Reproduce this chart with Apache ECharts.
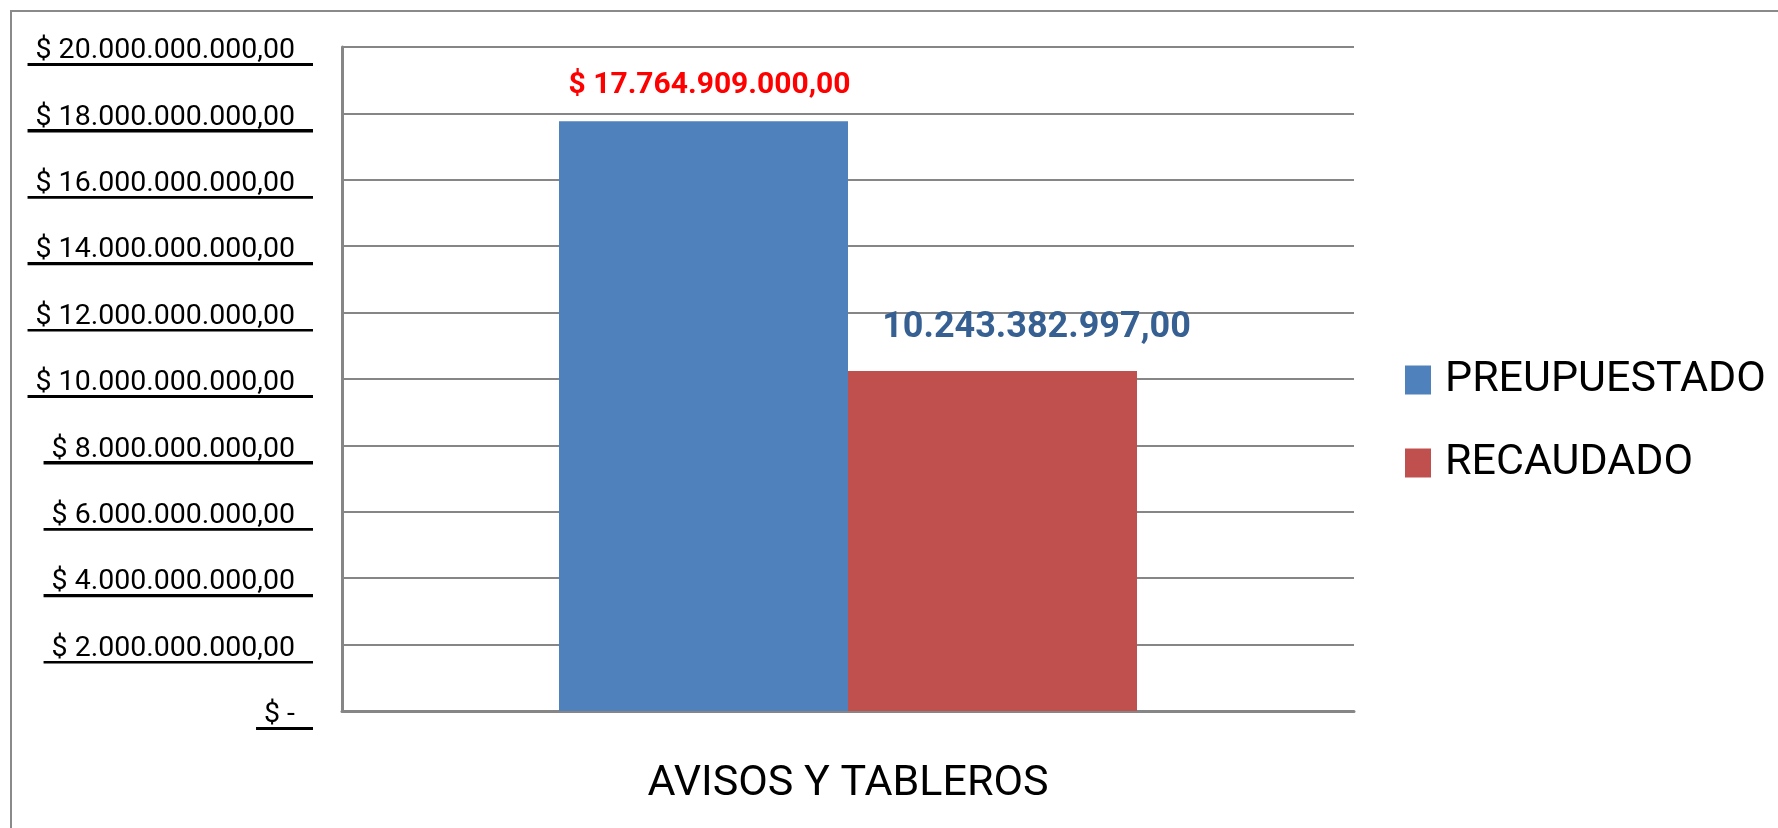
<!DOCTYPE html>
<html>
<head>
<meta charset="utf-8">
<script src="https://cdn.jsdelivr.net/npm/echarts@6/dist/echarts.min.js"></script>
<style>
  html, body { margin: 0; padding: 0; background: #fff; }
  #chart { width: 1778px; height: 828px; }
</style>
</head>
<body>
<div id="chart"></div>
<script>
  // datos
  const categories = ['AVISOS Y TABLEROS']
  const seriesNames = ['PREUPUESTADO', 'RECAUDADO']
  const presupuestado = [17764909000]
  const recaudado = [10243382997]
  const yMin = 0
  const yMax = 20000000000
  const yStep = 2000000000

  const colorList = ['#4f81bd', '#c0504d']
  const font = 'Roboto'

  // 1234567 -> "1.234.567,00"
  const fmt = (v) => Math.round(v).toString().replace(/\B(?=(\d{3})+(?!\d))/g, '.') + ',00'

  // subrayado tipo contabilidad de Excel
  const underline = new echarts.graphic.LinearGradient(0, 0, 0, 1, [
    { offset: 0, color: 'rgba(0,0,0,0)' },
    { offset: 0.92, color: 'rgba(0,0,0,0)' },
    { offset: 0.92, color: '#000' },
    { offset: 1, color: '#000' },
  ])

  const chart = echarts.init(document.getElementById('chart'))
  const options = {
    animation: false,
    textStyle: { fontFamily: font },
    graphic: [
      {
        type: 'rect',
        shape: { x: 11, y: 11, width: 1800, height: 900 },
        style: { fill: 'none', stroke: '#8a8a8a', lineWidth: 2 },
        silent: true,
      },
    ],
    legend: {
      orient: 'vertical',
      left: 1400,
      top: 353,
      icon: 'rect',
      itemWidth: 26,
      itemHeight: 29,
      itemGap: 39,
      textStyle: {
        fontFamily: font,
        fontSize: 43,
        lineHeight: 44,
        color: '#000',
        padding: [0, 0, 0, 9],
      },
      data: seriesNames,
    },
    grid: {
      left: 342,
      right: 424,
      top: 47,
      bottom: 117,
    },
    xAxis: [
      {
        type: 'category',
        data: categories,
        axisLine: { lineStyle: { color: '#868686', width: 3 } },
        axisTick: { show: false },
        axisLabel: {
          fontFamily: font,
          fontSize: 43,
          color: '#000',
          margin: 52,
        },
      },
    ],
    yAxis: [
      {
        type: 'value',
        min: yMin,
        max: yMax,
        interval: yStep,
        axisLine: { show: true, lineStyle: { color: '#868686', width: 3 } },
        axisTick: { show: false },
        splitLine: { lineStyle: { color: '#868686', width: 2 } },
        axisLabel: {
          margin: 29,
          padding: [0, 18, 0, 8],
          backgroundColor: underline,
          formatter: (v) => '{s| }\n{a|' + (v === 0 ? '$ -' : '$ ' + fmt(v)) + '}',
          rich: {
            s: { fontSize: 4, lineHeight: 8 },
            a: { fontFamily: font, fontSize: 28.5, lineHeight: 30, color: '#000' },
          },
        },
      },
    ],
    series: [
      {
        name: seriesNames[0],
        type: 'bar',
        data: presupuestado,
        barWidth: 289,
        barGap: '0%',
        itemStyle: { color: colorList[0] },
        label: {
          show: true,
          position: 'top',
          distance: 21,
          offset: [6, 0],
          fontFamily: font,
          fontWeight: 'bold',
          fontSize: 30,
          color: '#ff0000',
          formatter: (p) => '$ ' + fmt(p.value),
        },
      },
      {
        name: seriesNames[1],
        type: 'bar',
        data: recaudado,
        barWidth: 289,
        itemStyle: { color: colorList[1] },
        label: {
          show: true,
          position: 'top',
          distance: 25,
          offset: [44, 0],
          fontFamily: font,
          fontWeight: 'bold',
          fontSize: 36,
          color: '#376092',
          formatter: (p) => fmt(p.value),
        },
      },
    ],
  }
  chart.setOption(options)
  window.addEventListener('resize', function () {
    chart && chart.resize()
  })
</script>
</body>
</html>
